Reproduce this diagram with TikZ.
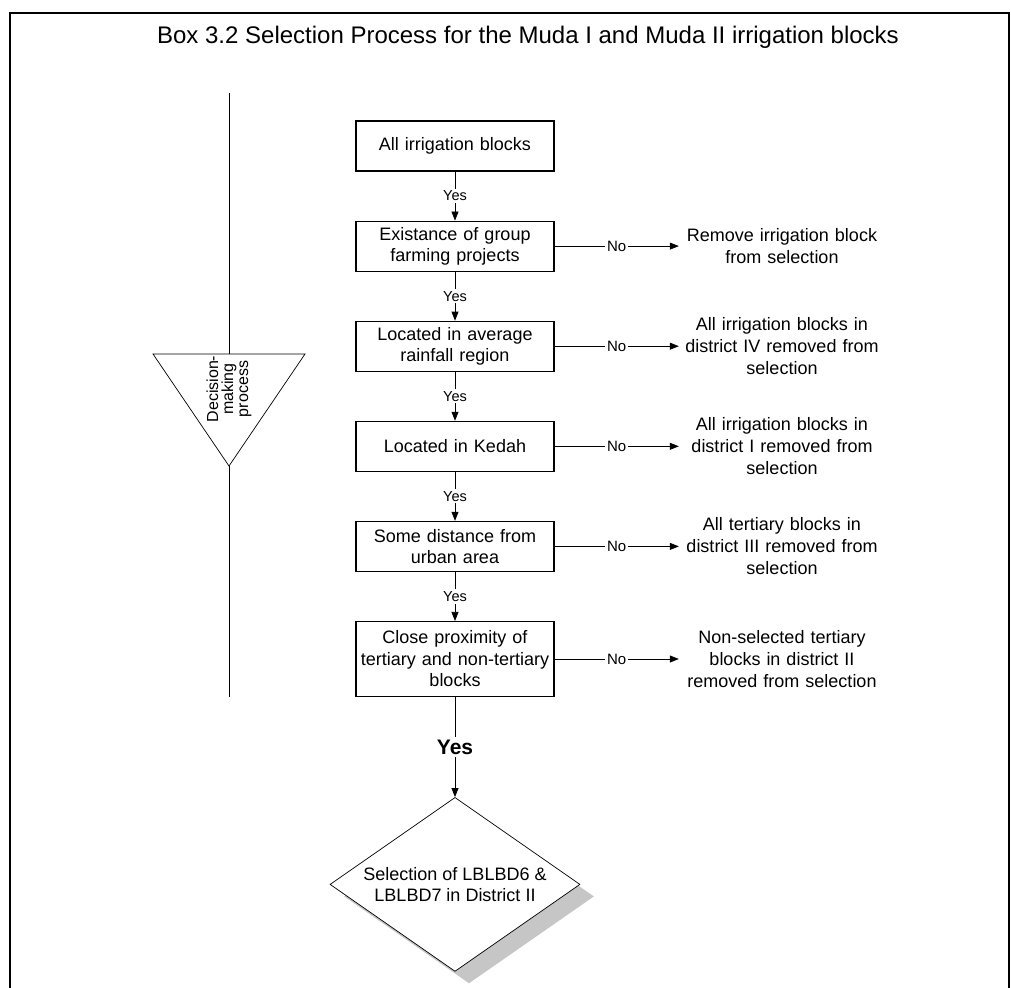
\documentclass[tikz,border=0pt]{standalone}
\usepackage{fontspec}
\setmainfont{Liberation Sans}
\usetikzlibrary{shapes.geometric,arrows.meta,positioning,shadows}

\begin{document}
\begin{tikzpicture}[
    x=1pt, y=-1pt,
    node distance=49pt,
    box/.style={rectangle, draw, line width=1.1pt, align=center, text width=196pt, minimum width=198pt, minimum height=50pt, inner sep=1pt, font=\fontsize{18}{21.5}\selectfont},
    outcome/.style={align=center, text width=200pt, inner sep=3pt, font=\fontsize{18}{22}\selectfont},
    arrow/.style={-{Triangle[length=9pt,width=7pt]}, line width=0.7pt},
    yes/.style={fill=white, inner sep=2pt, font=\fontsize{14.5}{16}\selectfont},
    no/.style={fill=white, inner sep=2pt, font=\fontsize{15}{16}\selectfont},
    final/.style={diamond, aspect=1.44, draw, line width=0.7pt, fill=white, minimum width=250pt, minimum height=174pt, inner sep=0pt, align=center, font=\fontsize{18}{21.5}\selectfont, drop shadow={shadow xshift=14pt, shadow yshift=-12pt, fill=gray!45, opacity=1}}
]
\useasboundingbox (0,0) rectangle (1011,987);

% Frame and title
\draw[line width=1.6pt] (10,995) -- (10,13) -- (1009,13) -- (1009,995);
\node[font=\fontsize{24}{28}\selectfont] (title) at (528,37) {Box 3.2 Selection Process for the Muda I and Muda II irrigation blocks};

% Decision-making process (left)
\coordinate (dtop) at (229,93);
\coordinate (dleft) at (153,354);
\coordinate (dright) at (305,354);
\coordinate (dtip) at (229,466);
\coordinate (dbot) at (229,697);
\draw[line width=0.7pt] (dtop) -- (dtop |- dleft);
\draw[line width=0.7pt] (dleft) -- (dright) -- (dtip) -- cycle;
\draw[line width=0.7pt] (dtip) -- (dbot);
\node[rotate=90, align=center, font=\fontsize{16}{15}\selectfont] (dlbl) at (229,389) {Decision-\\making\\process};

% Main chain
\node[box] (b1) at (455,146) {All irrigation blocks};
\node[box, below=of b1] (b2) {Existance of group\\farming projects};
\node[box, below=of b2] (b3) {Located in average\\rainfall region};
\node[box, below=of b3] (b4) {Located in Kedah};
\node[box, below=of b4] (b5) {Some distance from\\urban area};
\node[box, below=of b5, minimum height=75pt] (b6) {Close proximity of\\tertiary and non-tertiary\\blocks};
\node[final, below=100pt of b6] (sel) {Selection of LBLBD6 \&\\LBLBD7 in District II};

\draw[arrow] (b1) -- node[yes] {Yes} (b2);
\draw[arrow] (b2) -- node[yes] {Yes} (b3);
\draw[arrow] (b3) -- node[yes] {Yes} (b4);
\draw[arrow] (b4) -- node[yes] {Yes} (b5);
\draw[arrow] (b5) -- node[yes] {Yes} (b6);
\draw[arrow] (b6) -- node[fill=white, inner sep=3pt, font=\fontsize{21}{24}\selectfont\bfseries] {Yes} (sel);

% Outcomes
\coordinate (rx) at (782,0);
\node[outcome] (r2) at (b2 -| rx) {Remove irrigation block\\from selection};
\node[outcome] (r3) at (b3 -| rx) {All irrigation blocks in\\district IV removed from\\selection};
\node[outcome] (r4) at (b4 -| rx) {All irrigation blocks in\\district I removed from\\selection};
\node[outcome] (r5) at (b5 -| rx) {All tertiary blocks in\\district III removed from\\selection};
\node[outcome] (r6) at (b6 -| rx) {Non-selected tertiary\\blocks in district II\\removed from selection};

\draw[arrow] (b2) -- node[no] {No} (r2);
\draw[arrow] (b3) -- node[no] {No} (r3);
\draw[arrow] (b4) -- node[no] {No} (r4);
\draw[arrow] (b5) -- node[no] {No} (r5);
\draw[arrow] (b6) -- node[no] {No} (r6);

\end{tikzpicture}
\end{document}
